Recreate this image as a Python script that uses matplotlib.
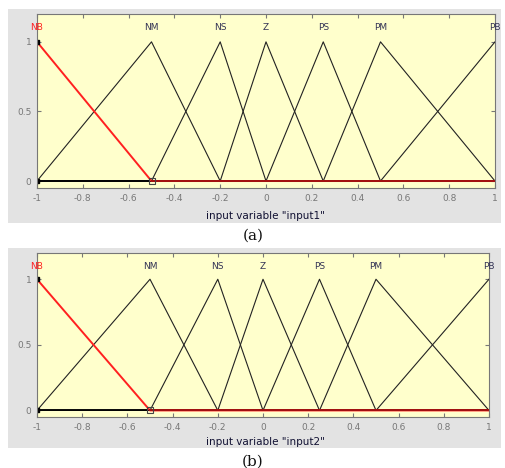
import numpy as np
import matplotlib.pyplot as plt
from matplotlib.patches import Rectangle

# membership functions (same for both inputs)
mf_names = ["NB", "NM", "NS", "Z", "PS", "PM", "PB"]
mf_x = [[-1, -0.5, 1],
        [-1, -0.5, -0.2, 1],
        [-1, -0.5, -0.2, 0, 1],
        [-1, -0.2, 0, 0.25, 1],
        [-1, 0, 0.25, 0.5, 1],
        [-1, 0.25, 0.5, 1],
        [-1, 0.5, 1]]
mf_y = [[1, 0, 0],
        [0, 1, 0, 0],
        [0, 0, 1, 0, 0],
        [0, 0, 1, 0, 0],
        [0, 0, 1, 0, 0],
        [0, 0, 1, 0],
        [0, 0, 1]]
mf_peak = [-1, -0.5, -0.2, 0, 0.25, 0.5, 1]
xticks = np.round(np.arange(-1, 1.01, 0.2), 1)
xticklabels = ["-1", "-0.8", "-0.6", "-0.4", "-0.2", "0", "0.2", "0.4", "0.6", "0.8", "1"]
yticks = [0, 0.5, 1]
yticklabels = ["0", "0.5", "1"]

fig = plt.figure(figsize=(5.05, 4.68), dpi=100)
fig.patch.set_facecolor("white")

W, H = 505, 468


def px_box(x0, y0, x1, y1):
    """pixel box (top-left origin) -> figure rect"""
    return [x0 / W, 1 - y1 / H, (x1 - x0) / W, (y1 - y0) / H]


def panel(grey, axbox, varname, letter, letter_y, xlabel_y):
    g = px_box(*grey)
    fig.patches.append(Rectangle((g[0], g[1]), g[2], g[3], transform=fig.transFigure,
                                 facecolor="#e3e3e3", edgecolor="none", zorder=-10))
    ax = fig.add_axes(px_box(*axbox))
    ax.set_facecolor("#ffffcc")
    for i in range(1, len(mf_names)):
        ax.plot(mf_x[i], mf_y[i], color="#222222", lw=0.8)
    ax.plot([-1, -0.5], [0, 0], color="black", lw=1.3)
    ax.plot(mf_x[0], mf_y[0], color="#ff2020", lw=1.4)
    ax.plot([-0.5, 1], [0, 0], color="#a01010", lw=1.4)
    ax.plot([-1, -1], [1, 0], ls="none", marker="s", ms=2.5, color="black")
    ax.plot([-0.5], [0], ls="none", marker="s", ms=5, mfc="none", mec="#444444", mew=0.8)
    for i, name in enumerate(mf_names):
        ax.text(mf_peak[i], 1.1, name, ha="center", va="center", fontsize=6.5,
                color="#ff2020" if i == 0 else "#333355")
    ax.set_xlim(-1, 1)
    ax.set_ylim(-0.05, 1.2)
    ax.set_xticks(xticks)
    ax.set_xticklabels(xticklabels)
    ax.set_yticks(yticks)
    ax.set_yticklabels(yticklabels)
    ax.tick_params(direction="in", length=3, labelsize=6.5, labelcolor="#777777",
                   color="#777777", top=True, right=True, pad=4)
    for s in ax.spines.values():
        s.set_color("#777777")
        s.set_linewidth(0.8)
    fig.text(265 / W, 1 - xlabel_y / H, 'input variable "%s"' % varname, ha="center",
             va="center", fontsize=7.5, color="#111133")
    fig.text(253 / W, 1 - letter_y / H, letter, ha="center", va="center",
             fontsize=11, family="DejaVu Serif", color="#111111")
    return ax


panel((8, 9, 501, 223), (37, 14, 495, 188), "input1", "(a)", 236, 216)
panel((8, 248, 501, 448), (37, 253, 489, 417), "input2", "(b)", 462, 442)

fig.savefig("out.png", dpi=100)
